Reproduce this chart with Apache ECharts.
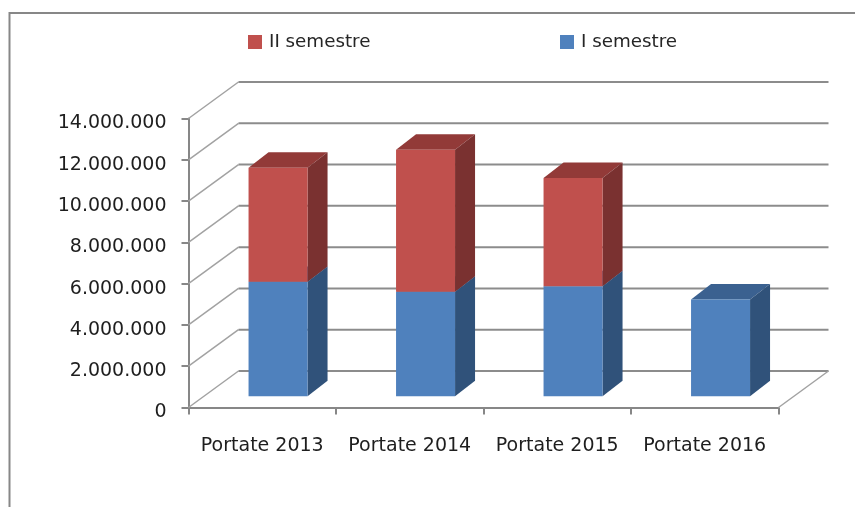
<!DOCTYPE html>
<html lang="en">
<head>
  <meta charset="UTF-8">
  <title>Portate</title>
  <style>
    html, body { margin: 0; padding: 0; background: #fff; }
    #chart { width: 855px; height: 507px; }
  </style>
</head>
<body>
  <div id="chart"></div>
  <script src="https://cdn.jsdelivr.net/npm/echarts@6/dist/echarts.min.js"></script>
  <script>
// data
const categories = ['Portate 2013', 'Portate 2014', 'Portate 2015', 'Portate 2016'];
const semestre1 = [5540000, 5060000, 5330000, 4690000];
const semestre2 = [5530000, 6880000, 5240000, 0];
const yTicks = [0, 2000000, 4000000, 6000000, 8000000, 10000000, 12000000, 14000000];

// fake 3d look
const wall = { dx: 50, dy: 36.5 };   // front plane -> back wall
const barShift = { dx: 15.8, dy: 11.3 };   // front plane -> bar front face
const barDepth = { dx: 20, dy: 15.4 };
const barWidth = 59;
const fontName = '"DejaVu Sans"';

function fmt(v) {
  return '{n|' + String(v).replace(/\B(?=(\d{3})+$)/g, '.') + '}';
}

function renderWall(params, api) {
  const cs = params.coordSys;
  const y = api.coord([0, api.value(1)])[1];
  const left = cs.x, right = cs.x + cs.width;
  const children = [
    {
      type: 'line',
      shape: { x1: left, y1: y, x2: left + wall.dx, y2: y - wall.dy },
      style: { stroke: '#a2a2a2', lineWidth: 1.5 }
    },
    {
      type: 'line',
      shape: { x1: left + wall.dx, y1: y - wall.dy, x2: right + wall.dx, y2: y - wall.dy },
      style: { stroke: '#8c8c8c', lineWidth: 2 }
    }
  ];
  if (api.value(1) === 0) {
    children.push({
      type: 'line',
      shape: { x1: right, y1: y, x2: right + wall.dx, y2: y - wall.dy },
      style: { stroke: '#a2a2a2', lineWidth: 1.5 }
    });
  }
  return { type: 'group', children };
}

function box(colors) {
  return function (params, api) {
    if (api.value(2) === api.value(1)) return null;
    const c0 = api.coord([api.value(0), api.value(1)]);
    const c1 = api.coord([api.value(0), api.value(2)]);
    const x0 = c0[0] + barShift.dx - barWidth / 2;
    const x1 = x0 + barWidth;
    const yb = c0[1] - barShift.dy;
    const yt = c1[1] - barShift.dy;
    const ddx = barDepth.dx, ddy = barDepth.dy;
    return {
      type: 'group',
      children: [
        {
          type: 'polygon',
          shape: { points: [[x0, yt], [x1, yt], [x1 + ddx, yt - ddy], [x0 + ddx, yt - ddy]] },
          style: { fill: colors.top }
        },
        {
          type: 'polygon',
          shape: { points: [[x1, yb], [x1 + ddx, yb - ddy], [x1 + ddx, yt - ddy], [x1, yt]] },
          style: { fill: colors.side }
        },
        {
          type: 'rect',
          shape: { x: x0, y: yt, width: barWidth, height: yb - yt },
          style: { fill: colors.front }
        }
      ]
    };
  };
}

const blue = { front: '#4F81BD', side: '#30527A', top: '#3B6190' };
const red = { front: '#C0504D', side: '#7A3130', top: '#923A38' };

const chart = echarts.init(document.getElementById('chart'), null, { renderer: 'canvas' });
chart.setOption({
  animation: false,
  textStyle: { fontFamily: fontName },
  grid: { left: 188.5, right: 76.5, top: 118.5, bottom: 99.5 },
  graphic: [{
    type: 'polyline',
    shape: { points: [[9.5, 507], [9.5, 13], [855, 13]] },
    style: { stroke: '#878787', lineWidth: 2, fill: null },
    silent: true
  }],
  legend: [
    {
      left: 243, top: 28, icon: 'rect', itemWidth: 14, itemHeight: 14, itemGap: 6,
      data: ['II semestre'], selectedMode: false,
      textStyle: { fontFamily: fontName, fontSize: 18.3, color: '#262626', padding: [0, 0, 0, 2] }
    },
    {
      left: 555, top: 28, icon: 'rect', itemWidth: 14, itemHeight: 14, itemGap: 6,
      data: ['I semestre'], selectedMode: false,
      textStyle: { fontFamily: fontName, fontSize: 18.3, color: '#262626', padding: [0, 0, 0, 2] }
    }
  ],
  xAxis: {
    type: 'category',
    data: categories,
    boundaryGap: true,
    axisLine: { lineStyle: { color: '#878787', width: 2 } },
    axisTick: { show: true, length: 7, lineStyle: { color: '#878787', width: 2 } },
    axisLabel: { color: '#1e1e1e', fontSize: 19, margin: 29, fontFamily: fontName, interval: 0 }
  },
  yAxis: {
    type: 'value',
    min: 0,
    max: 14000000,
    interval: 2000000,
    splitLine: { show: false },
    axisLine: { show: true, lineStyle: { color: '#878787', width: 2 } },
    axisTick: { show: true, length: 7, lineStyle: { color: '#878787', width: 2 } },
    axisLabel: {
      margin: 22,
      formatter: fmt,
      rich: { n: { color: '#1e1e1e', fontSize: 19, fontFamily: fontName, padding: [10, 0, 0, 0] } }
    }
  },
  series: [
    {
      type: 'custom',
      name: 'wall',
      z: 1,
      silent: true,
      renderItem: renderWall,
      encode: { x: 0, y: 1 },
      data: yTicks.map(v => [0, v])
    },
    {
      type: 'custom',
      name: 'I semestre',
      z: 2,
      itemStyle: { color: blue.front },
      renderItem: box(blue),
      encode: { x: 0, y: [1, 2] },
      data: categories.map((c, i) => [i, 0, semestre1[i]])
    },
    {
      type: 'custom',
      name: 'II semestre',
      z: 3,
      itemStyle: { color: red.front },
      renderItem: box(red),
      encode: { x: 0, y: [1, 2] },
      data: categories.map((c, i) => [i, semestre1[i], semestre1[i] + semestre2[i]])
    }
  ]
});
  </script>
</body>
</html>
